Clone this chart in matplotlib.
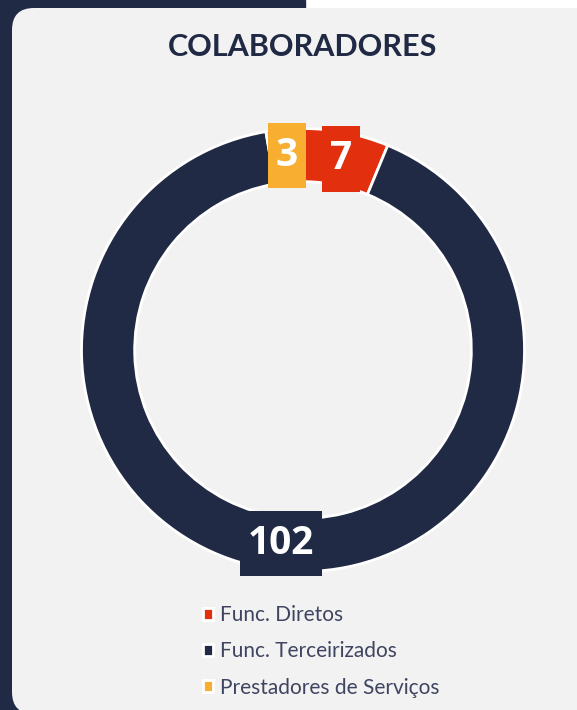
import matplotlib
matplotlib.use("Agg")
import matplotlib.pyplot as plt
from matplotlib.patches import FancyBboxPatch, Rectangle
import numpy as np

categories = ["Func. Diretos", "Func. Terceirizados", "Prestadores de Serviços"]
values = [7, 102, 3]
colors = ["#E2300F", "#202A44", "#F8AE31"]
title = "COLABORADORES"

W, H = 577, 710
fig = plt.figure(figsize=(W / 100, H / 100), dpi=100)
fig.patch.set_facecolor("white")

# background layer
bg = fig.add_axes([0, 0, 1, 1])
bg.set_xlim(0, W)
bg.set_ylim(H, 0)
bg.axis("off")
bg.add_patch(Rectangle((0, 0), 305, H, color="#202A44", zorder=0))
bg.add_patch(FancyBboxPatch((12, 8), 700, 706, boxstyle="round,pad=0,rounding_size=22",
                            facecolor="#F2F2F2", edgecolor="none", zorder=1))
bg.text(303, 47, title, ha="center", va="center", fontsize=22, fontweight="bold",
        color="#202A44", family="Lato")

# donut
cx, cy, R = 303, 350, 221.5
ax = fig.add_axes([(cx - R) / W, (H - cy - R) / H, 2 * R / W, 2 * R / H])
width = 0.24
wedges, _ = ax.pie(values, colors=colors, startangle=90, counterclock=False,
                   radius=1.0, wedgeprops=dict(width=width, edgecolor="white", linewidth=2))
ax.set_xlim(-1.0, 1.0)
ax.set_ylim(-1.0, 1.0)
ax.set_aspect("equal")
ax.axis("off")

total = sum(values)
start = 90.0
rmid = 1 - width / 2
for v, c in zip(values, colors):
    span = 360.0 * v / total
    mid = np.deg2rad(start - span / 2)
    start -= span
    ax.text(rmid * np.cos(mid), rmid * np.sin(mid), str(v), ha="center", va="center",
            fontsize=28, fontweight="bold", color="white", family="Open Sans",
            bbox=dict(boxstyle="square,pad=0.2", facecolor=c, edgecolor="none",
                      mutation_aspect=1.7))

leg = fig.legend(wedges, categories, loc="upper left", bbox_to_anchor=(203 / W, 1 - 605 / H),
                 frameon=False, prop=dict(family="Lato", size=15), labelcolor="#3F4460",
                 handlelength=0.5, handleheight=0.5, handletextpad=0.3, labelspacing=0.78,
                 borderaxespad=0, borderpad=0)

fig.savefig("out.png", dpi=100, facecolor=fig.get_facecolor())
